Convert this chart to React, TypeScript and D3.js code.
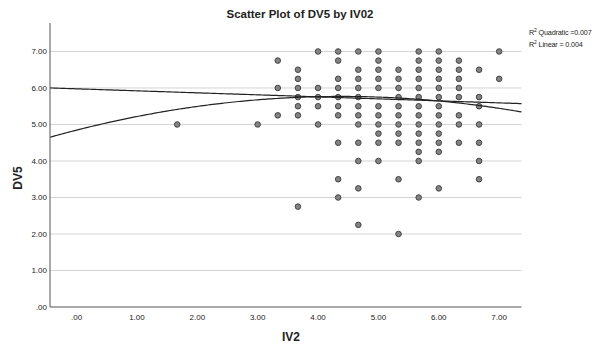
import React from "react";
import * as d3 from "d3";

const iv2: number[] = [
  1.667,
  3.0,
  3.333, 3.333, 3.333,
  3.667, 3.667, 3.667, 3.667, 3.667, 3.667, 3.667,
  4.0, 4.0, 4.0, 4.0, 4.0,
  4.333, 4.333, 4.333, 4.333, 4.333, 4.333, 4.333, 4.333, 4.333, 4.333,
  4.667, 4.667, 4.667, 4.667, 4.667, 4.667, 4.667, 4.667, 4.667, 4.667, 4.667, 4.667,
  5.0, 5.0, 5.0, 5.0, 5.0, 5.0, 5.0, 5.0, 5.0, 5.0, 5.0,
  5.333, 5.333, 5.333, 5.333, 5.333, 5.333, 5.333, 5.333, 5.333, 5.333, 5.333,
  5.667, 5.667, 5.667, 5.667, 5.667, 5.667, 5.667, 5.667, 5.667, 5.667, 5.667, 5.667, 5.667, 5.667,
  6.0, 6.0, 6.0, 6.0, 6.0, 6.0, 6.0, 6.0, 6.0, 6.0, 6.0, 6.0, 6.0,
  6.333, 6.333, 6.333, 6.333, 6.333, 6.333, 6.333, 6.333,
  6.667, 6.667, 6.667, 6.667, 6.667, 6.667, 6.667,
  7.0, 7.0,
];

const dv5: number[] = [
  5.0,
  5.0,
  6.75, 6.0, 5.25,
  6.5, 6.25, 6.0, 5.75, 5.5, 5.25, 2.75,
  7.0, 6.0, 5.75, 5.5, 5.0,
  7.0, 6.75, 6.25, 6.0, 5.75, 5.5, 5.25, 4.5, 3.5, 3.0,
  7.0, 6.5, 6.25, 6.0, 5.75, 5.5, 5.25, 5.0, 4.5, 4.0, 3.25, 2.25,
  7.0, 6.75, 6.5, 6.25, 6.0, 5.5, 5.25, 5.0, 4.75, 4.5, 4.0,
  6.5, 6.25, 6.0, 5.75, 5.5, 5.25, 5.0, 4.75, 4.5, 3.5, 2.0,
  7.0, 6.75, 6.5, 6.25, 6.0, 5.75, 5.5, 5.25, 5.0, 4.75, 4.5, 4.25, 4.0, 3.0,
  7.0, 6.75, 6.5, 6.25, 6.0, 5.75, 5.5, 5.25, 5.0, 4.75, 4.5, 4.25, 3.25,
  6.75, 6.5, 6.25, 6.0, 5.75, 5.25, 5.0, 4.5,
  6.5, 5.75, 5.5, 5.0, 4.5, 4.0, 3.5,
  7.0, 6.25,
];

const xTicks: number[] = [0, 1, 2, 3, 4, 5, 6, 7];
const yTicks: number[] = [0, 1, 2, 3, 4, 5, 6, 7];
const gridValues: number[] = [1, 2, 3, 4, 5, 6, 7];

// fit coefficients (intercept, linear, quadratic)
const quadCoef: number[] = [4.845, 0.4206, -0.0479];
const linCoef: number[] = [5.977, -0.055];

const title = "Scatter Plot of DV5 by IV02";
const xLabel = "IV2";
const yLabel = "DV5";
const legendLines: [string, string][] = [
  [" Quadratic =0.007", "R"],
  [" Linear = 0.004", "R"],
];

const fmt = (v: number) => (v === 0 ? ".00" : v.toFixed(2));

export default function App() {
  const W = 597;
  const H = 350;
  const x = d3.scaleLinear().domain([-0.44, 7.37]).range([50, 521.5]);
  const y = d3.scaleLinear().domain([0, 7.78]).range([307, 23]);
  const [x0, x1] = x.domain();
  const samples = d3.range(0, 201).map((i) => x0 + ((x1 - x0) * i) / 200);
  const line = d3
    .line<[number, number]>()
    .x((d) => x(d[0]))
    .y((d) => y(d[1]));
  const quadPath = line(
    samples.map((v) => [v, quadCoef[0] + quadCoef[1] * v + quadCoef[2] * v * v])
  );
  const linPath = line(samples.map((v) => [v, linCoef[0] + linCoef[1] * v]));
  const font = "'Liberation Sans', Arial, sans-serif";

  return (
    <svg
      width={W}
      height={H}
      style={{ position: "fixed", left: 0, top: 0, background: "#fff" }}
      fontFamily={font}
    >
      <rect x={0} y={0} width={W} height={H} fill="#fff" />
      <text x={300} y={18} textAnchor="middle" fontSize={11.5} fontWeight="bold" fill="#222">
        {title}
      </text>
      {gridValues.map((g) => (
        <line key={g} x1={x.range()[0]} x2={x.range()[1]} y1={y(g)} y2={y(g)} stroke="#d4d4d4" strokeWidth={1} />
      ))}
      {yTicks.map((t) => (
        <text key={t} x={47} y={y(t)} dy="0.35em" textAnchor="end" fontSize={8} fill="#222">
          {fmt(t)}
        </text>
      ))}
      {xTicks.map((t) => (
        <text key={t} x={x(t)} y={320} textAnchor="middle" fontSize={8} fill="#222">
          {fmt(t)}
        </text>
      ))}
      {iv2.map((v, i) => (
        <circle key={i} cx={x(v)} cy={y(dv5[i])} r={2.8} fill="#838383" stroke="#3a3a3a" strokeWidth={0.9} />
      ))}
      <path d={quadPath || ""} fill="none" stroke="#222" strokeWidth={1.2} />
      <path d={linPath || ""} fill="none" stroke="#222" strokeWidth={1.2} />
      <line x1={x.range()[0]} x2={x.range()[0]} y1={y.range()[1]} y2={y.range()[0]} stroke="#555" strokeWidth={1} />
      <line x1={x.range()[0]} x2={x.range()[1]} y1={y.range()[0]} y2={y.range()[0]} stroke="#555" strokeWidth={1} />
      <text x={291} y={341} textAnchor="middle" fontSize={12} fontWeight="bold" fill="#222">
        {xLabel}
      </text>
      <text transform={`translate(22,178) rotate(-90)`} textAnchor="middle" fontSize={12} fontWeight="bold" fill="#222">
        {yLabel}
      </text>
      {legendLines.map(([rest, r], i) => (
        <text key={i} x={529} y={35 + i * 12} fontSize={7.2} letterSpacing={-0.15} fill="#222">
          {r}
          <tspan fontSize={5} dy={-3}>2</tspan>
          <tspan dy={3}>{rest}</tspan>
        </text>
      ))}
    </svg>
  );
}
